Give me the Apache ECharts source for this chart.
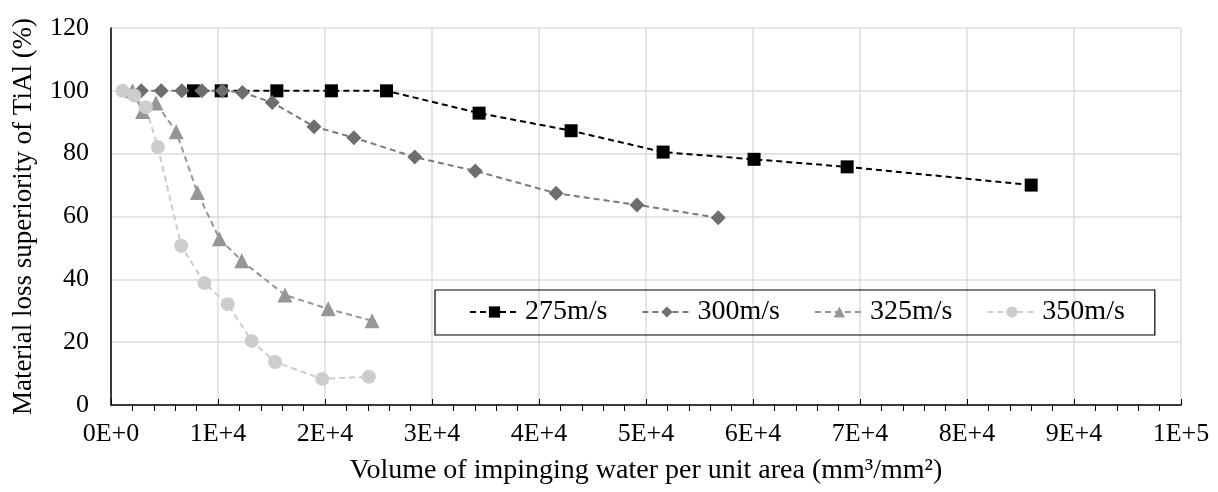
<!DOCTYPE html>
<html>
<head>
<meta charset="utf-8">
<script src="https://cdn.jsdelivr.net/npm/echarts@6/dist/echarts.min.js"></script>
<style>
  html, body { margin: 0; padding: 0; background: #fff; }
  #chart { width: 1218px; height: 492px; }
</style>
</head>
<body>
<div id="chart"></div>
<script>
// values
const seriesNames = ['275m/s', '300m/s', '325m/s', '350m/s']
const x275 = [7700, 10300, 15500, 20600, 25750, 34400, 43000, 51600, 60100, 68800, 86000]
const y275 = [100, 100, 100, 100, 100, 92.9, 87.3, 80.5, 78.2, 75.8, 70.0]
const x300 = [2830, 4690, 6620, 8490, 10410, 12280, 15070, 18970, 22700, 28390, 34050, 41600, 49160, 56750]
const y300 = [100, 100, 100, 100, 100, 99.5, 96.3, 88.6, 85.1, 78.9, 74.5, 67.4, 63.7, 59.6]
const x325 = [2010, 2950, 4200, 6090, 8080, 10130, 12220, 16260, 20300, 24400]
const y325 = [100, 93.4, 96.1, 87.0, 67.6, 52.9, 45.9, 35.0, 30.6, 26.8]
const x350 = [1080, 2170, 3260, 4380, 6560, 8730, 10910, 13150, 15330, 19740, 24100]
const y350 = [100, 98.5, 94.8, 82.1, 50.7, 38.8, 32.1, 20.4, 13.7, 8.3, 9.0]
const xTickLabels = ['0E+0', '1E+4', '2E+4', '3E+4', '4E+4', '5E+4', '6E+4', '7E+4', '8E+4', '9E+4', '1E+5']

const zip = (xs, ys) => xs.map((x, i) => [x, ys[i]])
const font = 'Liberation Serif'

const chart = echarts.init(document.getElementById('chart'), null, { renderer: 'canvas' })

function lineSeries(name, data, color, lineColor, symbol, size, width) {
  return {
    name: name,
    type: 'line',
    data: data,
    symbol: symbol,
    symbolSize: size,
    itemStyle: { color: color },
    lineStyle: { color: lineColor, width: width, type: [6, 4] },
    animation: false
  }
}

chart.setOption({
  textStyle: { fontFamily: font, color: '#000' },
  grid: { left: 111, right: 37, top: 28, bottom: 87 },
  legend: {
    left: 435,
    top: 290,
    padding: [8, 30, 9, 34],
    itemGap: 34,
    itemWidth: 49,
    itemHeight: 14,
    borderColor: '#000',
    borderWidth: 1.2,
    textStyle: { fontFamily: font, fontSize: 28, color: '#000', padding: [0, 0, 0, 1] },
    data: seriesNames
  },
  xAxis: {
    type: 'value',
    min: 0,
    max: 100000,
    interval: 10000,
    name: 'Volume of impinging water per unit area (mm\u00b3/mm\u00b2)',
    nameLocation: 'middle',
    nameGap: 52,
    nameTextStyle: { fontFamily: font, fontSize: 28, color: '#000' },
    axisLine: { lineStyle: { color: '#000', width: 1.5 } },
    axisTick: { show: true, inside: true, length: 6, lineStyle: { color: '#000', width: 1 } },
    // minor ticks ignore "inside", so a negative length turns them into the plot
    minorTick: { show: true, splitNumber: 5, length: -6, lineStyle: { color: '#000', width: 1 } },
    axisLabel: {
      fontFamily: font, fontSize: 26, color: '#000', margin: 16,
      formatter: v => xTickLabels[Math.round(v / 10000)]
    },
    splitLine: { show: true, lineStyle: { color: '#dcdcdc', width: 1.5 } }
  },
  yAxis: {
    type: 'value',
    min: 0,
    max: 120,
    interval: 20,
    name: 'Material loss superiority of TiAl (%)',
    nameLocation: 'middle',
    nameGap: 74,
    nameTextStyle: { fontFamily: font, fontSize: 27, color: '#000' },
    axisLine: { show: true, lineStyle: { color: '#000', width: 1.5 } },
    axisTick: { show: false },
    axisLabel: { fontFamily: font, fontSize: 26, color: '#000', margin: 22 },
    splitLine: { show: true, lineStyle: { color: '#dcdcdc', width: 1.5 } }
  },
  series: [
    lineSeries(seriesNames[0], zip(x275, y275), '#000000', '#000000', 'rect', 13, 2),
    lineSeries(seriesNames[1], zip(x300, y300), '#6e6e6e', '#7a7a7a', 'diamond', 15, 2),
    lineSeries(seriesNames[2], zip(x325, y325), '#969696', '#969696', 'triangle', 15, 2),
    lineSeries(seriesNames[3], zip(x350, y350), '#cdcdcd', '#cdcdcd', 'circle', 14, 2)
  ]
})
</script>
</body>
</html>
